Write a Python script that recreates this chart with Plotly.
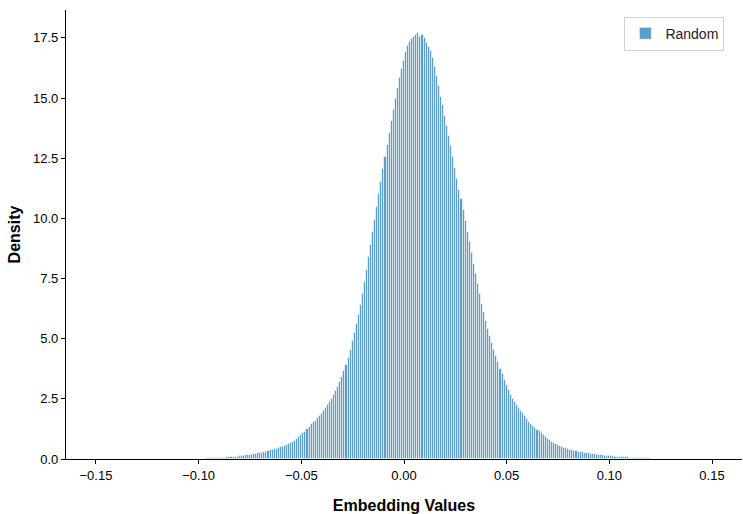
import plotly.graph_objects as go

# Histogram (density): bins of width 0.001,
# first bin centred at -0.109
bin_start = -0.109
bin_width = 0.001
density = [
    0.005, 0.006, 0.006, 0.007, 0.008, 0.009, 0.010, 0.011, 0.013, 0.014,
    0.016, 0.018, 0.020, 0.022, 0.025, 0.027, 0.030, 0.033, 0.037, 0.041,
    0.046, 0.051, 0.057, 0.063, 0.070, 0.078, 0.086, 0.095, 0.104, 0.114,
    0.124, 0.135, 0.146, 0.158, 0.170, 0.183, 0.198, 0.214, 0.231, 0.249,
    0.268, 0.288, 0.309, 0.331, 0.354, 0.378, 0.403, 0.430, 0.458, 0.487,
    0.517, 0.548, 0.581, 0.616, 0.653, 0.70, 0.76, 0.83, 0.90, 0.98,
    1.06, 1.14, 1.23, 1.32, 1.44, 1.52, 1.60, 1.69, 1.78, 1.87,
    1.99, 2.11, 2.24, 2.37, 2.50, 2.66, 2.83, 3.01, 3.20, 3.40,
    3.65, 3.92, 4.21, 4.52, 4.90, 5.25, 5.62, 6.00, 6.40, 6.85,
    7.35, 7.86, 8.38, 8.90, 9.42, 9.95, 10.48, 11.00, 11.52, 12.05,
    12.55, 13.05, 13.55, 14.05, 14.50, 14.95, 15.40, 15.82, 16.20, 16.55,
    16.90, 17.15, 17.35, 17.45, 17.55, 17.62, 17.72, 17.55, 17.62, 17.48,
    17.30, 17.12, 16.95, 16.68, 16.30, 15.90, 15.50, 15.05, 14.70, 14.25,
    13.85, 13.42, 13.00, 12.55, 12.10, 11.65, 11.20, 10.80, 10.35, 9.90,
    9.45, 9.00, 8.55, 8.12, 7.70, 7.28, 6.86, 6.45, 6.10, 5.75,
    5.42, 5.12, 4.82, 4.55, 4.28, 4.02, 3.76, 3.52, 3.30, 3.08,
    2.88, 2.68, 2.50, 2.37, 2.24, 2.12, 2.00, 1.90, 1.78, 1.66,
    1.55, 1.44, 1.36, 1.29, 1.22, 1.15, 1.08, 0.99, 0.90, 0.83,
    0.77, 0.72, 0.66, 0.61, 0.57, 0.53, 0.50, 0.47, 0.44, 0.41,
    0.39, 0.37, 0.35, 0.33, 0.31, 0.29, 0.28, 0.26, 0.25, 0.23,
    0.22, 0.20, 0.19, 0.18, 0.17, 0.16, 0.15, 0.14, 0.13, 0.12,
    0.115, 0.11, 0.10, 0.095, 0.09, 0.08, 0.075, 0.07, 0.065, 0.06,
    0.055, 0.05, 0.046, 0.042, 0.038, 0.034, 0.031, 0.028, 0.025, 0.022,
    0.020, 0.018, 0.016, 0.014, 0.012, 0.010, 0.009, 0.008, 0.007, 0.006,
    0.005,
]
series_name = "Random"
x_ticks = [-0.15, -0.10, -0.05, 0.00, 0.05, 0.10, 0.15]
y_ticks = [0.0, 2.5, 5.0, 7.5, 10.0, 12.5, 15.0, 17.5]

centers = [bin_start + i * bin_width for i in range(len(density))]

fig = go.Figure()
fig.add_trace(go.Bar(
    x=centers, y=density, width=bin_width, name=series_name,
    marker=dict(color="rgba(31,119,180,0.72)",
                line=dict(color="rgba(255,255,255,0.6)", width=1.0)),
    showlegend=True,
))

font_family = "Liberation Sans, Arial, sans-serif"
fig.update_layout(
    width=743, height=514,
    margin=dict(l=66, r=1, t=10, b=55, autoexpand=False),
    paper_bgcolor="white", plot_bgcolor="white",
    bargap=0,
    font=dict(family=font_family, size=13, color="black"),
    showlegend=True,
    legend=dict(x=0.826, y=0.985, xanchor="left", yanchor="top",
                bordercolor="#d0d0d0", borderwidth=1, bgcolor="white",
                font=dict(size=14, color="#222222"), itemwidth=30),
    xaxis=dict(
        range=[-0.1646, 0.1646], tickvals=x_ticks, tickformat=".2f",
        showgrid=False, zeroline=False, showline=True, linecolor="black",
        linewidth=1.2, ticks="outside", ticklen=4, tickcolor="black",
        tickfont=dict(size=13), automargin=False,
        title=dict(text="<b>Embedding Values</b>", font=dict(size=16), standoff=20),
    ),
    yaxis=dict(
        range=[0, 18.66], tickvals=y_ticks, tickformat=".1f",
        showgrid=False, zeroline=False, showline=True, linecolor="black",
        linewidth=1.2, ticks="outside", ticklen=4, tickcolor="black",
        tickfont=dict(size=13), automargin=False,
        title=dict(text="<b>Density</b>", font=dict(size=16), standoff=8),
    ),
)

fig.write_html("out.html", config={"displayModeBar": False},
               post_script="document.body.style.margin='0';document.body.style.overflow='hidden';")
